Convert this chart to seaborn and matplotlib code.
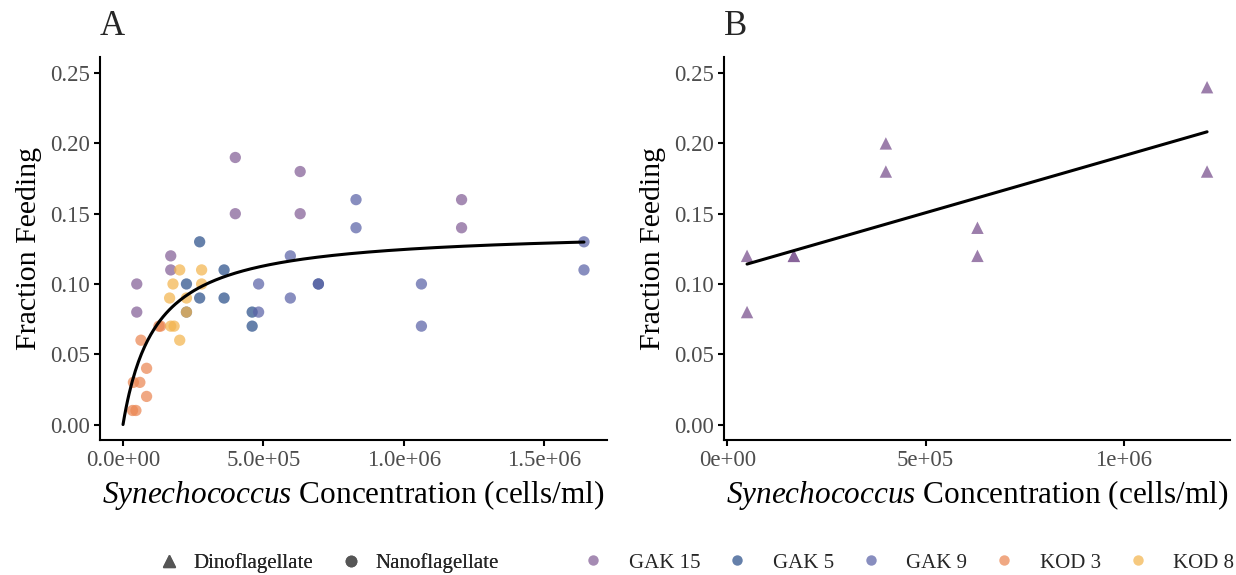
import numpy as np
import pandas as pd
import matplotlib
matplotlib.use("Agg")
import matplotlib.pyplot as plt
import seaborn as sns
from matplotlib.lines import Line2D

# ---------------- data ----------------
gak15_x = [49e3, 49e3, 170e3, 170e3, 400e3, 400e3, 631e3, 631e3, 1206e3, 1206e3]
gak15_y = [0.10, 0.08, 0.12, 0.11, 0.19, 0.15, 0.18, 0.15, 0.16, 0.14]
gak5_x = [226e3, 273e3, 273e3, 226e3, 360e3, 360e3, 460e3, 460e3, 696e3]
gak5_y = [0.10, 0.13, 0.09, 0.08, 0.11, 0.09, 0.08, 0.07, 0.10]
gak9_x = [483e3, 483e3, 596e3, 596e3, 696e3, 830e3, 830e3, 1063e3, 1063e3, 1642e3, 1642e3]
gak9_y = [0.10, 0.08, 0.12, 0.09, 0.10, 0.16, 0.14, 0.10, 0.07, 0.13, 0.11]
kod3_x = [128e3, 134e3, 64e3, 84e3, 37e3, 60e3, 84e3, 34e3, 46e3]
kod3_y = [0.07, 0.07, 0.06, 0.04, 0.03, 0.03, 0.02, 0.01, 0.01]
kod8_x = [202e3, 280e3, 178e3, 280e3, 166e3, 226e3, 226e3, 170e3, 182e3, 202e3]
kod8_y = [0.11, 0.11, 0.10, 0.10, 0.09, 0.09, 0.08, 0.07, 0.07, 0.06]

dino_x = [50e3, 50e3, 168e3, 168e3, 400e3, 400e3, 631e3, 631e3, 1210e3, 1210e3]
dino_y = [0.12, 0.08, 0.12, 0.12, 0.20, 0.18, 0.14, 0.12, 0.24, 0.18]

stations = ["GAK 15", "GAK 5", "GAK 9", "KOD 3", "KOD 8"]
groups = ["Dinoflagellate", "Nanoflagellate"]
palette = {"GAK 15": "#835e96", "GAK 5": "#2a4f8a", "GAK 9": "#5b62a7",
           "KOD 3": "#eb8753", "KOD 8": "#f3b44e"}

# saturating (Michaelis-Menten type) fit parameters for panel A
mm_max = 0.139
mm_half = 116e3

# ---------------- frames ----------------
nano = pd.concat([
    pd.DataFrame({"x": gak15_x, "y": gak15_y, "station": "GAK 15"}),
    pd.DataFrame({"x": gak5_x, "y": gak5_y, "station": "GAK 5"}),
    pd.DataFrame({"x": gak9_x, "y": gak9_y, "station": "GAK 9"}),
    pd.DataFrame({"x": kod3_x, "y": kod3_y, "station": "KOD 3"}),
    pd.DataFrame({"x": kod8_x, "y": kod8_y, "station": "KOD 8"}),
], ignore_index=True)
dino = pd.DataFrame({"x": dino_x, "y": dino_y, "station": "GAK 15"})

xc = np.linspace(0, nano["x"].max(), 300)
curve = pd.DataFrame({"x": xc, "y": mm_max * xc / (mm_half + xc)})

# ---------------- style ----------------
sns.set_theme(style="ticks")
plt.rcParams["font.family"] = ["Liberation Serif", "DejaVu Serif"]
plt.rcParams["mathtext.fontset"] = "custom"
plt.rcParams["mathtext.it"] = "Liberation Serif:italic"
plt.rcParams["mathtext.rm"] = "Liberation Serif"
plt.rcParams["axes.linewidth"] = 1.5

fig = plt.figure(figsize=(12.36, 5.75), dpi=100)
axA = fig.add_axes([0.0809, 0.2348, 0.4102, 0.6661])
axB = fig.add_axes([0.5858, 0.2348, 0.4094, 0.6661])

sns.scatterplot(data=nano, x="x", y="y", hue="station", palette=palette,
                marker="o", s=66, alpha=0.72, linewidth=0, legend=False, ax=axA)
sns.lineplot(data=curve, x="x", y="y", color="black", linewidth=2.2, ax=axA)

sns.scatterplot(data=dino, x="x", y="y", hue="station", palette=palette,
                marker="^", s=80, alpha=0.8, linewidth=0, legend=False, ax=axB)
sns.regplot(data=dino, x="x", y="y", scatter=False, ci=None, truncate=True,
            line_kws={"color": "black", "linewidth": 2.2}, ax=axB)

xlabel = r"$\it{Synechococcus}$ Concentration (cells/ml)"
for ax, title in [(axA, "A"), (axB, "B")]:
    sns.despine(ax=ax)
    ax.set_ylim(-0.011, 0.2615)
    ax.set_yticks([0, 0.05, 0.10, 0.15, 0.20, 0.25])
    ax.set_yticklabels(["0.00", "0.05", "0.10", "0.15", "0.20", "0.25"])
    ax.tick_params(axis="both", colors="black", labelcolor="#4d4d4d",
                   labelsize=16.5, length=4.5, width=1.5, pad=2.5)
    ax.set_xlabel(xlabel, fontsize=22.5, color="black", labelpad=5)
    ax.set_ylabel("Fraction Feeding", fontsize=21.5, color="black", labelpad=6)
    ax.set_title(title, loc="left", fontsize=25, pad=16, x=-0.0)
    ax.spines["left"].set_color("black")
    ax.spines["bottom"].set_color("black")

axA.set_xlim(-82e3, 1724e3)
axA.set_xticks([0, 5e5, 1e6, 1.5e6])
axA.set_xticklabels(["0.0e+00", "5.0e+05", "1.0e+06", "1.5e+06"])
axB.set_xlim(-8e3, 1268e3)
axB.set_xticks([0, 5e5, 1e6])
axB.set_xticklabels(["0e+00", "5e+05", "1e+06"])

# ---------------- legends ----------------
shape_handles = [
    Line2D([], [], marker="^", linestyle="", color="#555555", markersize=8, alpha=0.9),
    Line2D([], [], marker="o", linestyle="", color="#555555", markersize=7.5, alpha=0.9),
]
leg1 = fig.legend(shape_handles, groups, loc="center", bbox_to_anchor=(0.2658, 0.021),
                  ncol=2, frameon=False, fontsize=15, handlelength=1.0,
                  handletextpad=0.65, columnspacing=1.35)
color_handles = [Line2D([], [], marker="o", linestyle="", color=palette[s],
                        markersize=7.5, alpha=0.72, markeredgewidth=0) for s in stations]
leg2 = fig.legend(color_handles, stations, loc="center", bbox_to_anchor=(0.735, 0.021),
                  ncol=5, frameon=False, fontsize=15, handlelength=1.0,
                  handletextpad=1.2, columnspacing=1.28)
fig.add_artist(leg1)

fig.savefig("out.png", dpi=100)
